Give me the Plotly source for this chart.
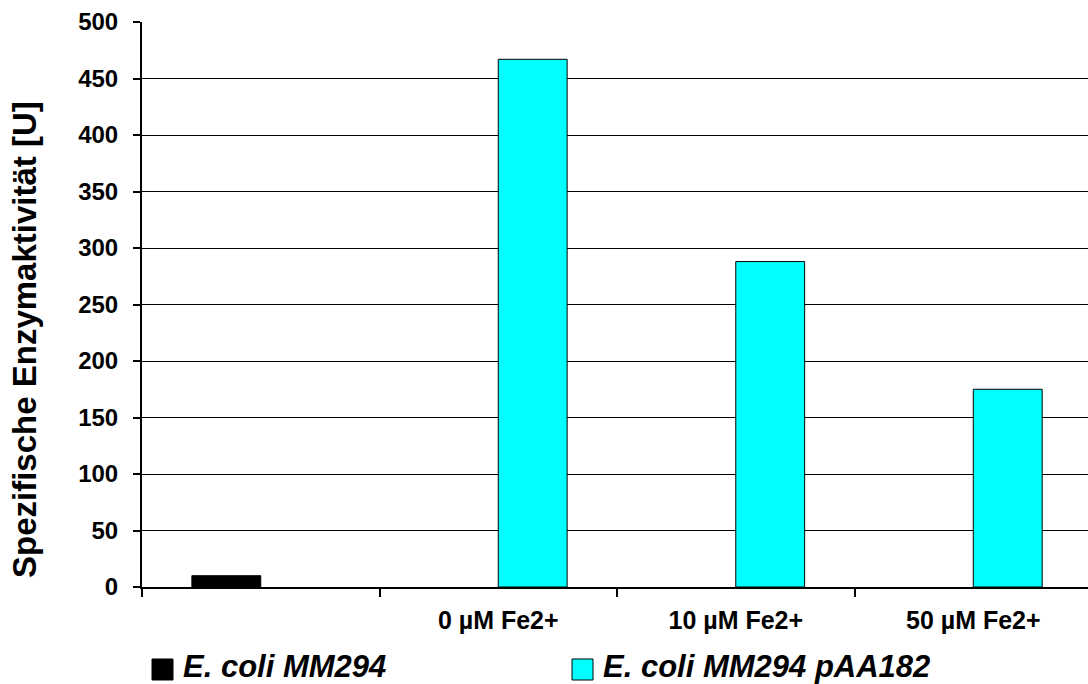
import plotly.graph_objects as go

# Categories on the x axis (first group has no label)
categories = [" ", "0 µM Fe2+", "10 µM Fe2+", "50 µM Fe2+"]
series_names = ["E. coli MM294", "E. coli MM294 pAA182"]
series_colors = ["#000000", "#00FFFF"]
mm294_values = [10, None, None, None]
paa182_values = [None, 467, 288, 175]
y_ticks = [0, 50, 100, 150, 200, 250, 300, 350, 400, 450, 500]
y_title = "Spezifische Enzymaktivität [U]"

FONT = "Liberation Sans, Arial, sans-serif"
W, H = 1088, 684
L, R, T, B = 142, 0, 22, 97
PW, PH = W - L - R, H - T - B

fig = go.Figure()
for name, vals, col in zip(series_names, [mm294_values, paa182_values], series_colors):
    fig.add_trace(go.Bar(
        x=categories, y=vals, name=name, showlegend=False,
        marker=dict(color=col, line=dict(color="#000000", width=1)),
    ))


def px_x(px):
    return (px - L) / PW


def px_y(py):
    return (H - B - py) / PH


# Legend below the chart: square swatch + bold italic label
legend_left = [152, 572]
for name, col, x0 in zip(series_names, series_colors, legend_left):
    fig.add_shape(type="rect", xref="paper", yref="paper",
                  x0=px_x(x0), x1=px_x(x0 + 21), y0=px_y(680), y1=px_y(659),
                  fillcolor=col, line=dict(color="#000000", width=1))
    fig.add_annotation(xref="paper", yref="paper", x=px_x(x0 + 29), y=px_y(666),
                       xanchor="left", yanchor="middle", showarrow=False,
                       text=name,
                       font=dict(family=FONT, size=31, weight="bold",
                                 style="italic", color="black"))

# Rotated y-axis title
fig.add_annotation(xref="paper", yref="paper", x=px_x(24), y=px_y(340),
                   xanchor="center", yanchor="middle", showarrow=False,
                   textangle=-90, text=y_title,
                   font=dict(family=FONT, size=33, weight="bold", color="black"))

fig.update_layout(
    width=W, height=H,
    margin=dict(l=L, r=R, t=T, b=B),
    paper_bgcolor="white", plot_bgcolor="white",
    barmode="group", bargap=0.42, bargroupgap=0,
    font=dict(family=FONT, color="black"),
    showlegend=False,
)

fig.update_xaxes(
    type="category", categoryorder="array", categoryarray=categories,
    range=[-0.5, 3.483],
    showline=True, linecolor="black", linewidth=2,
    ticks="outside", tickson="boundaries", ticklen=8, tickwidth=2, tickcolor="black",
    showgrid=False,
    tickfont=dict(family=FONT, size=25, weight="bold"),
    ticklabelstandoff=10,
)
fig.update_yaxes(
    range=[0, 500], tickvals=y_ticks,
    showline=True, linecolor="black", linewidth=2,
    ticks="outside", ticklen=7, tickwidth=2, tickcolor="black",
    showgrid=True, gridcolor="black", gridwidth=1,
    zeroline=False,
    tickfont=dict(family=FONT, size=24, weight="bold"),
    ticklabelstandoff=10,
)

fig.write_html("out.html")
